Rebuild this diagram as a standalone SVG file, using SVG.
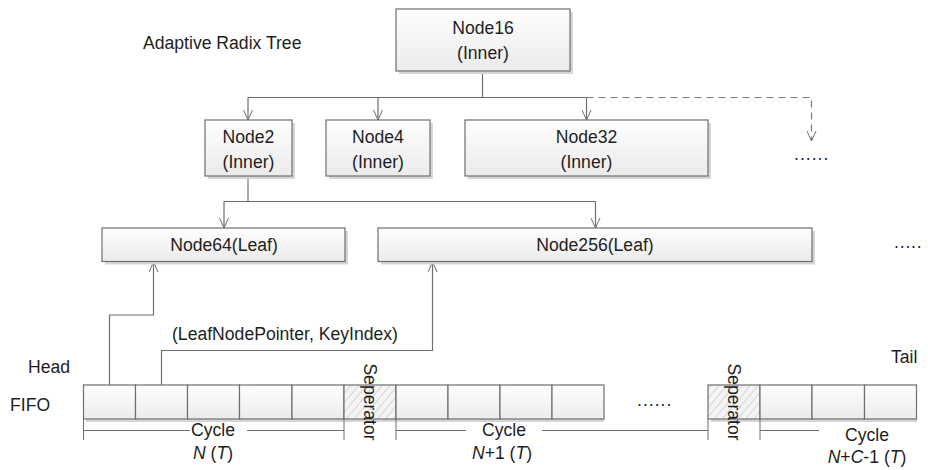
<svg xmlns="http://www.w3.org/2000/svg" width="928" height="470" viewBox="0 0 928 470">
<defs>
<linearGradient id="g" x1="0" y1="0" x2="0" y2="1">
<stop offset="0" stop-color="#fefefe"/>
<stop offset="1" stop-color="#ebebeb"/>
</linearGradient>
<pattern id="hatch" width="6" height="6" patternUnits="userSpaceOnUse" patternTransform="rotate(40)">
<rect width="6" height="6" fill="#f4f4f4"/>
<line x1="0" y1="0" x2="0" y2="6" stroke="#b8b8b8" stroke-width="1"/>
</pattern>
<marker id="ah" viewBox="0 0 12 10" refX="11" refY="5" markerWidth="12" markerHeight="10" markerUnits="userSpaceOnUse" orient="auto">
<path d="M1,0.5 L11,5 L1,9.5" fill="none" stroke="#6e6e6e" stroke-width="1"/>
</marker>
</defs>
<style>
text{font-family:"Liberation Sans",Arial,sans-serif;font-size:17.6px;fill:#1e1e1e}
.c{text-anchor:middle}
.box{fill:url(#g);stroke:#6e6e6e;stroke-width:1.2}
.sh{fill:#d6d6d6}
.ln{fill:none;stroke:#6e6e6e;stroke-width:1.2}
.dl{fill:none;stroke:#7a7a7a;stroke-width:1.2;stroke-dasharray:7,5}
.cell{fill:url(#g);stroke:#6e6e6e;stroke-width:1.2}
.sep{fill:url(#hatch);stroke:#6e6e6e;stroke-width:1.2}
.br{fill:none;stroke:#6e6e6e;stroke-width:1}
</style>
<rect width="928" height="470" fill="#ffffff"/>

<text x="143" y="49">Adaptive Radix Tree</text>

<g id="connectors">
<path class="ln" d="M482.5,71 V97.5"/>
<path class="ln" d="M248,97.5 H586.5"/>
<path class="ln" d="M248,97.5 V120" marker-end="url(#ah)"/>
<path class="ln" d="M378,97.5 V120" marker-end="url(#ah)"/>
<path class="ln" d="M586.5,97.5 V120" marker-end="url(#ah)"/>
<path class="dl" d="M586.5,97.5 H811.5 V141" marker-end="url(#ah)"/>
<path class="ln" d="M248,176 V201.5"/>
<path class="ln" d="M224,201.5 H595.5"/>
<path class="ln" d="M224,201.5 V228" marker-end="url(#ah)"/>
<path class="ln" d="M595.5,201.5 V228" marker-end="url(#ah)"/>
<path class="ln" d="M109.5,401.5 V315 H153.5 V262" marker-end="url(#ah)"/>
<path class="ln" d="M161.5,401.5 V350.5 H432.5 V262" marker-end="url(#ah)"/>
</g>

<g id="node16">
<rect class="sh" x="399" y="12" width="174" height="62"/>
<rect class="box" x="396" y="9" width="174" height="62"/>
<text class="c" x="483" y="34">Node16</text>
<text class="c" x="483" y="59">(Inner)</text>
</g>
<g id="node2">
<rect class="sh" x="208" y="123" width="87" height="56"/>
<rect class="box" x="205" y="120" width="87" height="56"/>
<text class="c" x="248.5" y="143">Node2</text>
<text class="c" x="248.5" y="168">(Inner)</text>
</g>
<g id="node4">
<rect class="sh" x="329" y="123" width="104" height="56"/>
<rect class="box" x="326" y="120" width="104" height="56"/>
<text class="c" x="378" y="143">Node4</text>
<text class="c" x="378" y="168">(Inner)</text>
</g>
<g id="node32">
<rect class="sh" x="468" y="123" width="243" height="56"/>
<rect class="box" x="465" y="120" width="243" height="56"/>
<text class="c" x="586.5" y="143">Node32</text>
<text class="c" x="586.5" y="168">(Inner)</text>
</g>
<g id="more1">
<text x="794" y="160" style="letter-spacing:1px">......</text>
</g>
<g id="node64">
<rect class="sh" x="105" y="231" width="243" height="33.5"/>
<rect class="box" x="102" y="228" width="243" height="33.5"/>
<text class="c" x="224" y="250.5">Node64(Leaf)</text>
</g>
<g id="node256">
<rect class="sh" x="381" y="231" width="434" height="33.5"/>
<rect class="box" x="378" y="228" width="434" height="33.5"/>
<text class="c" x="595" y="250.5">Node256(Leaf)</text>
</g>
<g id="more2">
<text x="894" y="248" style="letter-spacing:0.8px">.....</text>
</g>

<text x="172" y="340">(LeafNodePointer, KeyIndex)</text>
<text x="28" y="373">Head</text>
<text x="10" y="411">FIFO</text>
<text x="891" y="363">Tail</text>

<g id="fifo">
<rect class="sh" x="86" y="388" width="518" height="34"/>
<rect class="sh" x="711" y="388" width="206" height="34"/>
<rect class="cell" x="83.5" y="385" width="52" height="34"/>
<rect class="cell" x="135.5" y="385" width="52" height="34"/>
<rect class="cell" x="187.5" y="385" width="52" height="34"/>
<rect class="cell" x="239.5" y="385" width="52.5" height="34"/>
<rect class="cell" x="292" y="385" width="52" height="34"/>
<rect class="sep" x="344" y="385" width="52" height="34"/>
<rect class="cell" x="396" y="385" width="52" height="34"/>
<rect class="cell" x="448" y="385" width="52" height="34"/>
<rect class="cell" x="500" y="385" width="52" height="34"/>
<rect class="cell" x="552" y="385" width="52" height="34"/>
<text x="637" y="406" style="letter-spacing:1px">......</text>
<rect class="sep" x="708" y="385" width="52" height="34"/>
<rect class="cell" x="760" y="385" width="52" height="34"/>
<rect class="cell" x="812" y="385" width="52.5" height="34"/>
<rect class="cell" x="864.5" y="385" width="52" height="34"/>
<text transform="translate(370,402) rotate(90)" class="c" y="6">Seperator</text>
<text transform="translate(734,402) rotate(90)" class="c" y="6">Seperator</text>
</g>

<g id="cycles">
<path class="br" d="M83.5,419 V440 M344,419 V440 M396,419 V440 M708,419 V440 M760,419 V440"/>
<path class="br" d="M83.5,430.5 H190 M247,430.5 H344"/>
<path class="br" d="M396,430.5 H466 M542,430.5 H708"/>
<path class="br" d="M760,430.5 H819"/>
<text class="c" x="213" y="436">Cycle</text>
<text class="c" x="213" y="459"><tspan font-style="italic">N</tspan> (<tspan font-style="italic">T</tspan>)</text>
<text class="c" x="504" y="436">Cycle</text>
<text class="c" x="502" y="459"><tspan font-style="italic">N</tspan>+1 (<tspan font-style="italic">T</tspan>)</text>
<text class="c" x="867" y="441">Cycle</text>
<text class="c" x="867" y="463"><tspan font-style="italic">N</tspan>+<tspan font-style="italic">C</tspan>-1 (<tspan font-style="italic">T</tspan>)</text>
</g>
</svg>
